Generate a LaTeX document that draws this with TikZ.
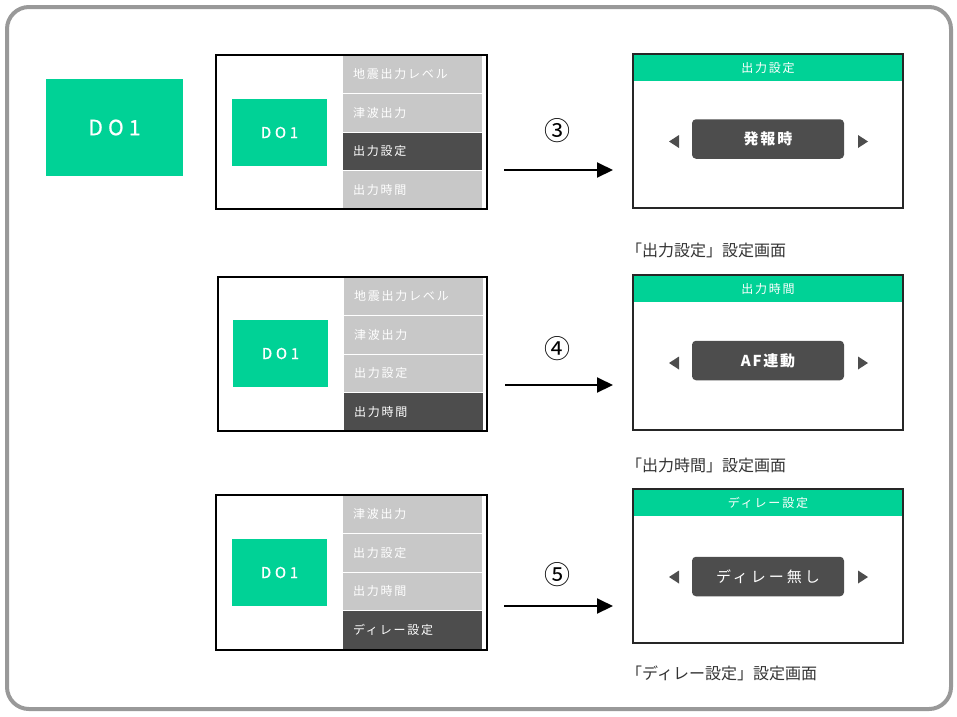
\documentclass[tikz,border=0pt]{standalone}
\usepackage{fontspec}
\usetikzlibrary{arrows.meta}
\setmainfont{Noto Sans CJK JP}
\newfontfamily\menufam[LetterSpace=15]{Noto Sans CJK JP}
\newfontfamily\dofam[LetterSpace=25,FakeBold=0.8]{Noto Sans CJK JP}
\newfontfamily\valfam[LetterSpace=12]{Noto Sans CJK JP}
\newfontfamily\valwide[LetterSpace=20]{Noto Sans CJK JP}
\newfontfamily\capfam{Noto Sans CJK JP}
\definecolor{brandgreen}{HTML}{00D296}
\definecolor{menugray}{HTML}{C8C8C8}
\definecolor{seldark}{HTML}{4D4D4D}
\definecolor{framegray}{HTML}{999999}
\definecolor{captext}{HTML}{333333}
\begin{document}
\begin{tikzpicture}[x=1pt,y=-1pt,
  frame/.style={draw=framegray, line width=4pt, rounded corners=22pt, minimum width=944pt, minimum height=702pt, inner sep=0pt},
  bigdo/.style={fill=brandgreen, minimum width=137pt, minimum height=97pt, inner sep=0pt, text=white, font=\dofam\fontsize{21pt}{24pt}\selectfont},
  smalldo/.style={fill=brandgreen, minimum width=95pt, minimum height=67pt, inner sep=0pt, text=white, font=\dofam\fontsize{15pt}{18pt}\selectfont},
  row/.style={fill=menugray, draw=white, line width=1pt, minimum width=140pt, minimum height=38.5pt, text width=118pt, inner xsep=11pt, inner ysep=0pt, align=left, text=white, font=\menufam\fontsize{12pt}{14pt}\selectfont},
  rowsel/.style={row, fill=seldark},
  panel/.style={draw=black, line width=1.5pt, minimum height=154pt, inner sep=0pt},
  header/.style={fill=brandgreen, minimum width=270pt, minimum height=27pt, inner sep=0pt, text=white, font=\menufam\fontsize{12pt}{14pt}\selectfont},
  valbox/.style={fill=seldark, rounded corners=4pt, minimum width=152pt, minimum height=39.5pt, inner sep=0pt, text=white, font=\valfam\fontsize{15pt}{18pt}\selectfont},
  caption/.style={anchor=west, inner sep=0pt, text=captext, font=\capfam\fontsize{16pt}{18pt}\selectfont},
  circnum/.style={inner sep=0pt, text=black, font=\capfam\fontsize{26pt}{28pt}\selectfont},
  arr/.style={line width=2pt, -{Triangle[length=16pt, width=15pt]}},
  tri/.style={fill=seldark}
]
\useasboundingbox (0,0) rectangle (957,716);
\node[frame] (outer) at (479,358) {};

% big DO1
\node[bigdo] (do1big) at (114.5,127.5) {DO1};

% ---------- row 1 ----------
\node[row]    (m1a) at (412,74.25)  {地震出力レベル};
\node[row]    (m1b) at (412,112.75) {津波出力};
\node[rowsel] (m1c) at (412,151.25) {出力設定};
\node[row]    (m1d) at (412,189.75) {出力時間};
\node[smalldo] (d1) at (279.5,132.5) {DO1};
\node[panel, minimum width=271pt] (p1) at (351.5,132) {};

\node[header] (h1) at (768,67.5) {出力設定};
\node[valbox] (v1) at (768,139) {\bfseries 発報時};
\node[panel, draw=black!85, minimum width=270pt] (s1) at (768,131) {};
\fill[tri] (669,141.5) -- (679,135) -- (679,148) -- cycle;
\fill[tri] (868,141.5) -- (858,135) -- (858,148) -- cycle;
\node[caption] (c1) at (626,250) {「出力設定」設定画面};

\coordinate (a1s) at (504,170);
\coordinate (a1e) at (613,170);
\draw[arr] (a1s) -- (a1e);
\node[circnum] (n1) at (557,131) {③};

% ---------- row 2 ----------
\node[row]    (m2a) at (413,296.25) {地震出力レベル};
\node[row]    (m2b) at (413,334.75) {津波出力};
\node[row]    (m2c) at (413,373.25) {出力設定};
\node[rowsel] (m2d) at (413,411.75) {出力時間};
\node[smalldo] (d2) at (280.5,353.5) {DO1};
\node[panel, minimum width=269pt] (p2) at (352.5,354) {};

\node[header] (h2) at (768,288.5) {出力時間};
\node[valbox] (v2) at (768,360.5) {\bfseries AF連動};
\node[panel, draw=black!85, minimum width=270pt, minimum height=155pt] (s2) at (768,352.5) {};
\fill[tri] (669,363) -- (679,356.5) -- (679,369.5) -- cycle;
\fill[tri] (868,363) -- (858,356.5) -- (858,369.5) -- cycle;
\node[caption] (c2) at (626,465) {「出力時間」設定画面};

\coordinate (a2s) at (505,385);
\coordinate (a2e) at (613,385);
\draw[arr] (a2s) -- (a2e);
\node[circnum] (n2) at (557,349) {④};

% ---------- row 3 ----------
\node[row]    (m3a) at (412,514.25) {津波出力};
\node[row]    (m3b) at (412,552.75) {出力設定};
\node[row]    (m3c) at (412,591.25) {出力時間};
\node[rowsel] (m3d) at (412,629.75) {ディレー設定};
\node[smalldo] (d3) at (279.5,572.5) {DO1};
\node[panel, minimum width=271pt, minimum height=155pt] (p3) at (351.5,572.5) {};

\node[header] (h3) at (768,502.5) {ディレー設定};
\node[valbox] (v3) at (768,576.5) {\valwide ディレー無し};
\node[panel, draw=black!85, minimum width=270pt] (s3) at (768,566) {};
\fill[tri] (669,577) -- (679,570.5) -- (679,583.5) -- cycle;
\fill[tri] (868,577) -- (858,570.5) -- (858,583.5) -- cycle;
\node[caption] (c3) at (626,673) {「ディレー設定」設定画面};

\coordinate (a3s) at (504,606);
\coordinate (a3e) at (613,606);
\draw[arr] (a3s) -- (a3e);
\node[circnum] (n3) at (557,575) {⑤};
\end{tikzpicture}
\end{document}
